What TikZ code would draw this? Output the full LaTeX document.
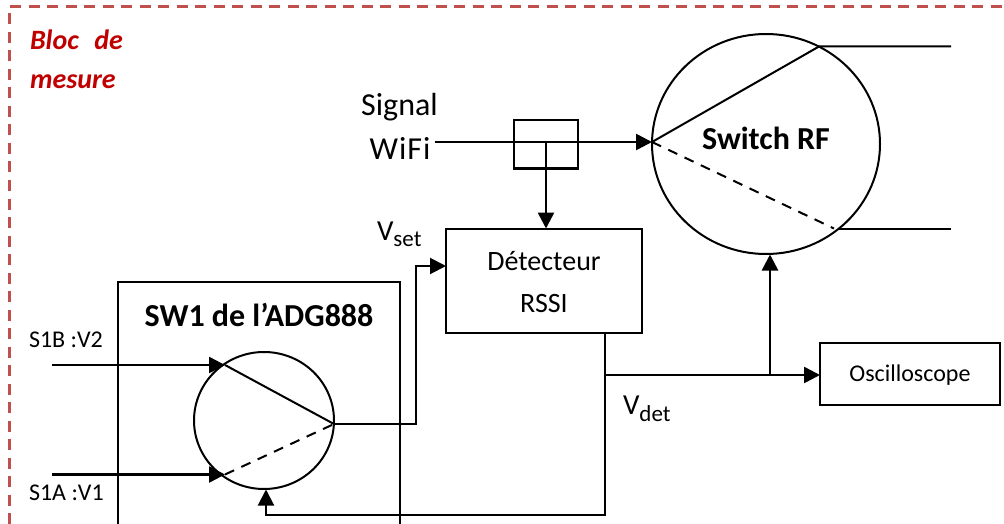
\documentclass[tikz,border=0pt]{standalone}
\usepackage{fontspec}
\setmainfont{Carlito}
\usetikzlibrary{arrows.meta,shapes.geometric}
\definecolor{framecol}{HTML}{C0504D}
\definecolor{titlecol}{HTML}{C00000}
\newcommand{\fsz}[1]{\fontsize{#1}{#1}\selectfont}
\tikzset{
  wire/.style={line width=2pt,draw=black},
  thick wire/.style={line width=2.6pt,draw=black},
  arr/.style={-{Triangle[length=16pt,width=16pt]}},
  box/.style={draw=black,line width=2pt,fill=none,inner sep=0pt,outer sep=0pt},
  round box/.style={box,shape=ellipse},
  dashline/.style={wire,dash pattern=on 10pt off 8pt},
  txt/.style={inner sep=0pt,outer sep=0pt,anchor=center,text=black},
  title/.style={txt,text=titlecol,font=\fsz{28}\bfseries\itshape,anchor=west},
}
\begin{document}
\begin{tikzpicture}[x=1pt,y=-1pt]
\useasboundingbox (0,0) rectangle (1004,524);
% frame
\coordinate (fa) at (9.5,524);
\coordinate (fb) at (9.5,6.5);
\coordinate (fc) at (1004,6.5);
\draw[draw=framecol,line width=3pt,dash pattern=on 11pt off 7.5pt] (fa) -- (fb) -- (fc);
\node[title] (t1) at (30,39.5) {Bloc\hspace{.55em}de};
\node[title] (t2) at (30,81.5) {mesure};
% boxes
\node[box,minimum width=282pt,minimum height=260pt,anchor=north west] (sw) at (118,282) {};
\node[box,minimum width=196pt,minimum height=104pt,anchor=north west] (det) at (446,228.5) {};
\node[box,minimum width=180pt,minimum height=62pt,anchor=north west] (osc) at (820,342.5) {};
\node[box,minimum width=64pt,minimum height=48pt,anchor=north west] (cpl) at (514,120.5) {};
\node[round box,minimum width=140pt,minimum height=137pt] (c1) at (264,420.5) {};
\node[round box,minimum width=228pt,minimum height=220pt] (c2) at (766,144) {};
% labels
\node[txt,font=\fsz{32}\bfseries] (swl) at (259,315) {SW1 de l’ADG888};
\node[txt,font=\fsz{32}\bfseries] (c2l) at (766,138) {Switch RF};
\node[txt,font=\fsz{28}] (d1) at (544,261) {Détecteur};
\node[txt,font=\fsz{28}] (d2) at (544,304) {RSSI};
\node[txt,font=\fsz{24}] (ol) at (910,375) {Oscilloscope};
\node[txt,font=\fsz{32}] (sg) at (399.5,107) {Signal};
\node[txt,font=\fsz{32}] (wf) at (400,148) {W\hspace{1pt}i\hspace{1pt}F\hspace{1pt}i};
\node[txt,font=\fsz{24},anchor=west] (s1b) at (29,340) {S1B :V2};
\node[txt,font=\fsz{24},anchor=west] (s1a) at (29,492.5) {S1A :V1};
\node[txt,font=\fsz{29},anchor=west] (vs) at (377,234.5) {V\textsubscript{\fsz{23}set}};
\node[txt,font=\fsz{29},anchor=west] (vd) at (623,408.5) {V\textsubscript{\fsz{23}det}};
% junction points
\coordinate (i1) at (52,365);
\coordinate (p1) at (225,365);
\coordinate (i2) at (52,474.5);
\coordinate (p2) at (225,474.5);
\coordinate (o1) at (334,424);
\coordinate (k1) at (416,424);
\coordinate (k2) at (416,266);
\coordinate (dl) at (446,266);
\coordinate (wi) at (435,142);
\coordinate (cin) at (652,142);
\coordinate (cj) at (546,142);
\coordinate (dt) at (546,228.5);
\coordinate (u1) at (819,46.5);
\coordinate (u2) at (951,46.5);
\coordinate (l1) at (834,228.5);
\coordinate (l0) at (838,228.5);
\coordinate (l2) at (951,228.5);
\coordinate (db) at (605,332);
\coordinate (dj) at (605,375);
\coordinate (bj) at (770,375);
\coordinate (bt) at (770,254.5);
\coordinate (ol2) at (820,375);
\coordinate (fb1) at (605,515);
\coordinate (fb2) at (266,515);
\coordinate (fb3) at (266,489.5);
% connectors
\draw[thick wire,arr] (i1) -- (p1);
\draw[thick wire,arr] (i2) -- (p2);
\draw[wire] (p1) -- (o1);
\draw[dashline] (p2) -- (o1);
\draw[wire,arr] (o1) -- (k1) -- (k2) -- (dl);
\draw[thick wire,arr] (wi) -- (cin);
\draw[thick wire,arr] (cj) -- (dt);
\draw[wire] (cin) -- (u1) -- (u2);
\draw[dashline] (cin) -- (l1);
\draw[wire] (l0) -- (l2);
\draw[thick wire] (db) -- (dj);
\draw[thick wire,arr] (dj) -- (ol2);
\draw[thick wire,arr] (bj) -- (bt);
\draw[wire,arr] (dj) -- (fb1) -- (fb2) -- (fb3);
\end{tikzpicture}
\end{document}
